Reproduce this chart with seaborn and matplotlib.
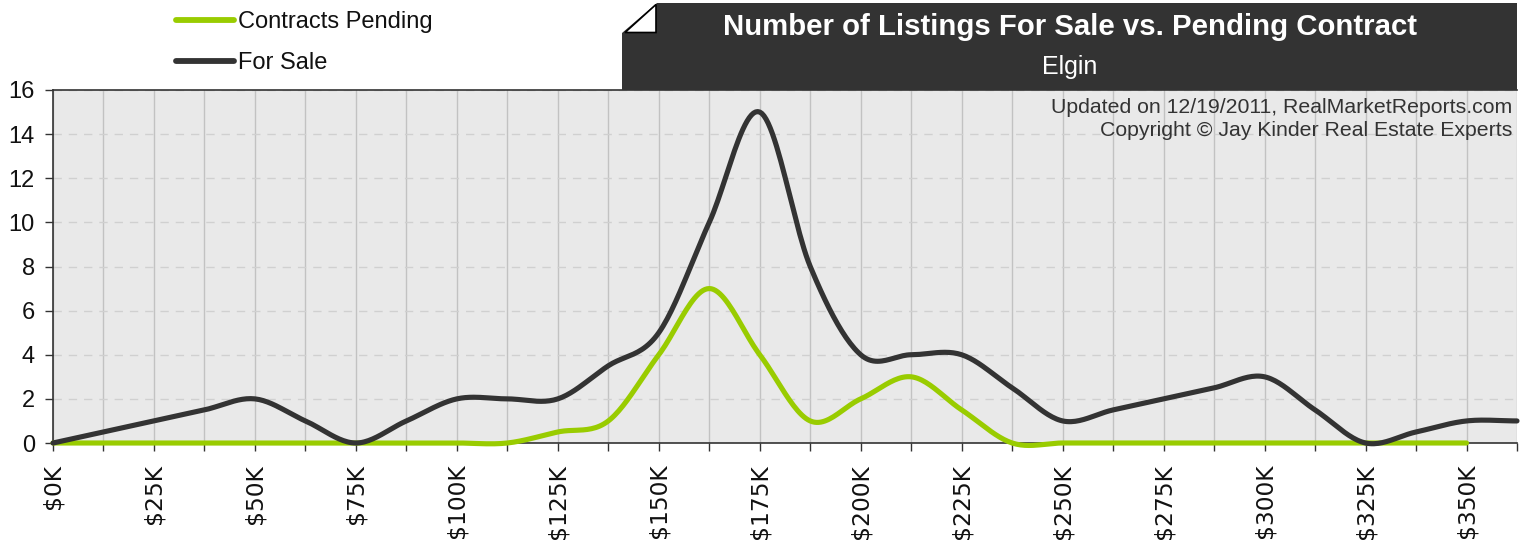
import numpy as np
import pandas as pd
import matplotlib
matplotlib.use("Agg")
import matplotlib.pyplot as plt
import seaborn as sns
from matplotlib.patches import Polygon

# price buckets in $K, one point every 12.5K
price_k = [0, 12.5, 25, 37.5, 50, 62.5, 75, 87.5, 100, 112.5, 125, 137.5, 150, 162.5,
           175, 187.5, 200, 212.5, 225, 237.5, 250, 262.5, 275, 287.5, 300, 312.5, 325,
           337.5, 350, 362.5]
for_sale = [0, 0.5, 1, 1.5, 2, 1, 0, 1, 2, 2, 2, 3.5, 5, 10,
            15, 8, 4, 4, 4, 2.5, 1, 1.5, 2, 2.5, 3, 1.5, 0,
            0.5, 1, 1]
pending = [0, 0, 0, 0, 0, 0, 0, 0, 0, 0, 0.5, 1, 4, 7,
           4, 1, 2, 3, 1.5, 0, 0, 0, 0, 0, 0, 0, 0,
           0, 0]
tick_values = [0, 25, 50, 75, 100, 125, 150, 175, 200, 225, 250, 275, 300, 325, 350]
tick_labels = ["$%dK" % v for v in tick_values]

W, H = 1527, 541
GREEN = "#99cc00"
DARK = "#333333"


def smooth(xs, ys, steps=24):
    # Catmull-Rom spline so the lines look like the original "spline" chart
    xs = np.asarray(xs, float)
    ys = np.asarray(ys, float)
    px = np.concatenate([[2 * xs[0] - xs[1]], xs, [2 * xs[-1] - xs[-2]]])
    py = np.concatenate([[2 * ys[0] - ys[1]], ys, [2 * ys[-1] - ys[-2]]])
    t = np.linspace(0, 1, steps, endpoint=False)
    out_x, out_y = [], []
    for i in range(1, len(px) - 2):
        for arr, out in ((px, out_x), (py, out_y)):
            p0, p1, p2, p3 = arr[i - 1:i + 3]
            out.append(0.5 * (2 * p1 + (p2 - p0) * t + (2 * p0 - 5 * p1 + 4 * p2 - p3) * t ** 2
                              + (3 * p1 - p0 - 3 * p2 + p3) * t ** 3))
    out_x.append([xs[-1]])
    out_y.append([ys[-1]])
    return np.concatenate(out_x), np.concatenate(out_y)


frames = []
for name, xs, ys in (("Contracts Pending", price_k[:len(pending)], pending),
                     ("For Sale", price_k, for_sale)):
    sx, sy = smooth(xs, ys)
    frames.append(pd.DataFrame({"price": sx, "count": sy, "series": name}))
df = pd.concat(frames, ignore_index=True)

sns.set_theme(style="white")
plt.rcParams["font.family"] = ["Liberation Sans", "DejaVu Sans"]
plt.rcParams["text.color"] = "#111111"

fig = plt.figure(figsize=(W / 100, H / 100), dpi=100)
ax = fig.add_axes([53 / W, 1 - 443 / H, (1517 - 53) / W, (443 - 90) / H])
ax.set_facecolor("#e9e9e9")

sns.lineplot(data=df, x="price", y="count", hue="series", sort=False, estimator=None,
             palette={"Contracts Pending": GREEN, "For Sale": DARK},
             hue_order=["Contracts Pending", "For Sale"], linewidth=3.7, ax=ax, legend=True)
for line in ax.get_lines():
    line.set_clip_on(False)
    line.set_solid_capstyle("round")
    line.set_solid_joinstyle("round")
    line.set_zorder(5)

ax.set_xlim(0, 362.5)
ax.set_ylim(0, 16)
ax.set_xticks(tick_values)
ax.set_xticklabels(tick_labels, rotation=90, fontfamily="DejaVu Sans", fontsize=16.8, va="top")
ax.set_xticks([v + 12.5 for v in tick_values], minor=True)
ax.set_yticks(range(0, 17, 2))
ax.tick_params(axis="y", labelsize=17, length=6, width=1, color=DARK, labelcolor="#111111",
               direction="out", pad=7, left=True)
ax.tick_params(axis="x", which="both", length=6, width=1, color=DARK, labelcolor="#111111",
               direction="out", pad=9, bottom=True)
ax.set_xlabel("")
ax.set_ylabel("")

ax.grid(axis="x", which="both", color="#c2c2c2", lw=1, ls="-")
ax.grid(axis="y", which="major", color="#d0d0d0", lw=1, ls=(0, (6, 5)))
ax.set_axisbelow(True)
for side in ("left", "bottom", "top"):
    ax.spines[side].set_color(DARK)
    ax.spines[side].set_linewidth(1.2)
ax.spines["right"].set_visible(False)

handles, labels = ax.get_legend_handles_labels()
ax.get_legend().remove()
leg = fig.legend(handles, labels, loc="upper left", bbox_to_anchor=(176 / W, 1 - 11 / H),
                 frameon=False, fontsize=17, handlelength=2.45, handletextpad=0.17,
                 labelspacing=0.8, borderpad=0, borderaxespad=0)
for h in leg.legend_handles:
    h.set_linewidth(4.2)
    h.set_solid_capstyle("round")


# title banner with folded corner
def fpt(x, y):
    return (x / W, 1 - y / H)


banner = Polygon([fpt(622, 90), fpt(622, 33), fpt(657, 3), fpt(1517, 3), fpt(1517, 90)],
                 closed=True, transform=fig.transFigure, facecolor=DARK, edgecolor="none")
fold = Polygon([fpt(625, 32.5), fpt(656, 4.5), fpt(656, 32.5)], closed=True,
               transform=fig.transFigure, facecolor="white", edgecolor="black", lw=1.2)
fig.patches.extend([banner, fold])
fig.text(1070 / W, 1 - 27 / H, "Number of Listings For Sale vs. Pending Contract",
         color="white", fontsize=21.2, fontweight="bold", ha="center", va="center")
fig.text(1070 / W, 1 - 67 / H, "Elgin", color="white", fontsize=18, ha="center", va="center")

fig.text(1512 / W, 1 - 107 / H, "Updated on 12/19/2011, RealMarketReports.com",
         color=DARK, fontsize=15.3, ha="right", va="center")
fig.text(1512 / W, 1 - 131 / H, "Copyright \u00a9 Jay Kinder Real Estate Experts",
         color=DARK, fontsize=15.3, ha="right", va="center")

fig.savefig("out.png", dpi=100)
